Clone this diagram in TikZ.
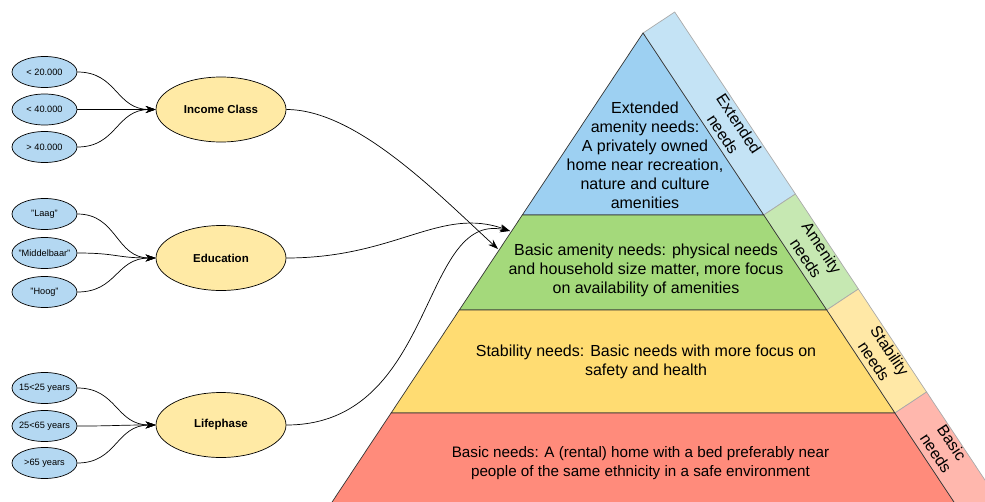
\documentclass[tikz,border=0pt]{standalone}
\usepackage{fontspec}
\setmainfont{Liberation Sans}
\usetikzlibrary{arrows.meta,shapes.geometric,calc}

\definecolor{extFill}{HTML}{9DD0F2}
\definecolor{extBand}{HTML}{C4E3F5}
\definecolor{amenFill}{HTML}{A4D97B}
\definecolor{amenBand}{HTML}{C6E8B2}
\definecolor{stabFill}{HTML}{FFDC72}
\definecolor{stabBand}{HTML}{FFE8A6}
\definecolor{basicFill}{HTML}{FF8B7B}
\definecolor{basicBand}{HTML}{FFB7AD}
\definecolor{valFill}{HTML}{B4D8F2}
\definecolor{factFill}{HTML}{FFEAA5}
\definecolor{bandLine}{HTML}{AAAAAA}

% value labels are set in a zero-width box so every value ellipse keeps the same size
\newcommand{\valtext}[1]{\makebox[0pt]{#1}}

\begin{document}
\begin{tikzpicture}[x=1pt,y=-1pt,
  valnode/.style={ellipse,draw=black,line width=0.7pt,fill=valFill,
    minimum width=65pt,minimum height=31pt,inner sep=0pt,
    font=\fontsize{9.2}{11}\selectfont},
  factnode/.style={ellipse,draw=black,line width=0.7pt,fill=factFill,
    minimum width=130pt,minimum height=65pt,inner sep=0pt,
    font=\fontsize{11.5}{13}\selectfont\bfseries},
  feed/.style={draw=black,line width=0.7pt,-{Stealth[length=10pt,width=7pt]}},
  layer/.style={draw=black!80,line width=0.7pt},
  band/.style={draw=bandLine,line width=0.7pt},
  layertext/.style={align=center,font=\fontsize{16}{19}\selectfont},
  bandtext/.style={align=center,rotate=-56.5,font=\fontsize{16}{19}\selectfont}
]
\useasboundingbox (0,0) rectangle (985,501);

% edge points of the pyramid (right and left flanks)
\coordinate (E0) at (643,33);
\coordinate (E1) at (763.7,215);
\coordinate (E2) at (826.7,310);
\coordinate (E3) at (894.9,413);
\coordinate (E4) at (979.1,540);
\coordinate (L1) at (522.3,215);
\coordinate (L2) at (459.3,310);
\coordinate (L3) at (391.1,413);
\coordinate (L4) at (306.9,540);

\begin{scope}
\clip (0,0) rectangle (985,501);
% side bands along the right flank
\draw[band,fill=extBand]   (E0) -- (E1) -- ($(E1)+(31.7,-21)$) -- ($(E0)+(31.7,-21)$) -- cycle;
\draw[band,fill=amenBand]  (E1) -- (E2) -- ($(E2)+(31.7,-21)$) -- ($(E1)+(31.7,-21)$) -- cycle;
\draw[band,fill=stabBand]  (E2) -- (E3) -- ($(E3)+(31.7,-21)$) -- ($(E2)+(31.7,-21)$) -- cycle;
\draw[band,fill=basicBand] (E3) -- (E4) -- ($(E4)+(31.7,-21)$) -- ($(E3)+(31.7,-21)$) -- cycle;
% pyramid layers
\draw[layer,fill=extFill]   (E0) -- (E1) -- (L1) -- cycle;
\draw[layer,fill=amenFill]  (L1) -- (E1) -- (E2) -- (L2) -- cycle;
\draw[layer,fill=stabFill]  (L2) -- (E2) -- (E3) -- (L3) -- cycle;
\draw[layer,fill=basicFill] (L3) -- (E3) -- (E4) -- (L4) -- cycle;
\end{scope}

% layer descriptions
\node[layertext] (extT) at (645,155) {Extended\\amenity needs:\\A privately owned\\home near recreation,\\nature and culture\\amenities};
\node[layertext] (amenT) at (646,270) {Basic amenity needs: physical needs\\and household size matter, more focus\\on availability of amenities};
\node[layertext] (stabT) at (646,362) {Stability needs: Basic needs with more focus on\\safety and health};
\node[layertext,font=\fontsize{15.2}{19}\selectfont] (basicT) at (640.5,463) {Basic needs: A (rental) home with a bed preferably near\\people of the same ethnicity in a safe environment};

% band labels
\node[bandtext] (extB) at (731,129) {Extended\\needs};
\node[bandtext] (amenB) at (814,253) {Amenity\\needs};
\node[bandtext] (stabB) at (882,356) {Stability\\needs};
\node[bandtext] (basicB) at (944,448) {Basic\\needs};

% factors
\node[factnode] (inc) at (221,109.5) {Income Class};
\node[factnode] (edu) at (221,258) {Education};
\node[factnode] (life) at (221,425) {Lifephase};

% values
\node[valnode] (i1) at (44.5,72) {\valtext{< 20.000}};
\node[valnode] (i2) at (44.5,109.5) {\valtext{< 40.000}};
\node[valnode] (i3) at (44.5,147) {\valtext{> 40.000}};
\node[valnode] (e1) at (44.5,214) {\valtext{"Laag"}};
\node[valnode] (e2) at (44.5,253) {\valtext{"Middelbaar"}};
\node[valnode] (e3) at (44.5,292) {\valtext{"Hoog"}};
\node[valnode] (l1) at (44.5,388) {\valtext{15<25 years}};
\node[valnode] (l2) at (44.5,426) {\valtext{25<65 years}};
\node[valnode] (l3) at (44.5,463) {\valtext{>65 years}};

% value -> factor links
\foreach \v in {i1,i2,i3}
  \draw[feed] (\v.east) .. controls +(40,0) and +(-40,0) .. (inc.west);
\foreach \v in {e1,e2,e3}
  \draw[feed] (\v.east) .. controls +(40,0) and +(-40,0) .. (edu.west);
\foreach \v in {l1,l2,l3}
  \draw[feed] (\v.east) .. controls +(40,0) and +(-40,0) .. (life.west);

% factor -> pyramid links
\coordinate (tipInc) at (498,249);
\coordinate (tipEdu) at (510,231);
\draw[feed] (inc.east) .. controls +(70,0) and +(-60,-55) .. (tipInc);
\draw[feed] (edu.east) .. controls +(110,0) and +(-70,-25) .. (tipEdu);
\draw[feed] (life.east) .. controls +(150,0) and +(-90,-20) .. (tipEdu);

\end{tikzpicture}
\end{document}
